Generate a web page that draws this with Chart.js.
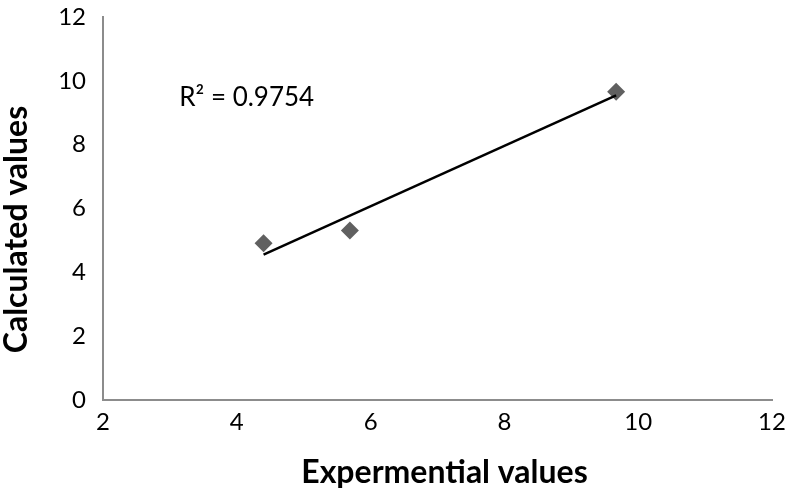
<!DOCTYPE html>
<html>
<head>
<meta charset="utf-8">
<script src="https://cdn.jsdelivr.net/npm/chart.js@4/dist/chart.umd.min.js"></script>
<style>
  html, body { margin: 0; padding: 0; background: #fff; }
  #wrap { position: relative; width: 787px; height: 493px; }
</style>
</head>
<body>
<div id="wrap"><canvas id="chart"></canvas></div>
<script>
// Experimental vs calculated values, with linear trendline
const expValues = [4.40, 5.69, 9.67];
const calcValues = [4.91, 5.31, 9.66];
const xTicks = [2, 4, 6, 8, 10, 12];
const yTicks = [0, 2, 4, 6, 8, 10, 12];
const r2Label = 'R² = 0.9754';
const xTitle = 'Expermential values';
const yTitle = 'Calculated values';

// least squares fit through the points (the trendline)
const n = expValues.length;
const mx = expValues.reduce((a, b) => a + b, 0) / n;
const my = calcValues.reduce((a, b) => a + b, 0) / n;
let sxy = 0, sxx = 0;
for (let i = 0; i < n; i++) {
    sxy += (expValues[i] - mx) * (calcValues[i] - my);
    sxx += (expValues[i] - mx) * (expValues[i] - mx);
}
const slope = sxy / sxx;
const icpt = my - slope * mx;
const xMin = Math.min(...expValues), xMax = Math.max(...expValues);
const trend = [
    { x: xMin, y: icpt + slope * xMin },
    { x: xMax, y: icpt + slope * xMax }
];

const points = expValues.map((x, i) => ({ x: x, y: calcValues[i] }));

const FONT = 'Lato, "Open Sans", sans-serif';

// R² label and axis titles, placed like the spreadsheet original
const labelsPlugin = {
    id: 'extraLabels',
    afterDraw(chart) {
        const ctx = chart.ctx;
        const xs = chart.scales.x, ys = chart.scales.y;
        const area = chart.chartArea;
        ctx.save();
        ctx.fillStyle = '#000';
        ctx.font = '26px ' + FONT;
        ctx.textBaseline = 'alphabetic';
        ctx.textAlign = 'left';
        ctx.fillText(r2Label, xs.getPixelForValue(3.14), ys.getPixelForValue(9.22));

        ctx.font = 'bold 32px ' + FONT;
        ctx.textAlign = 'center';
        ctx.fillText(xTitle, (area.left + area.right) / 2 + 7, 483);

        ctx.translate(27, (area.top + area.bottom) / 2 + 21);
        ctx.rotate(-Math.PI / 2);
        ctx.fillText(yTitle, 0, 0);
        ctx.restore();
    }
};

const tickFont = { family: FONT, size: 24 };

new Chart(document.getElementById('chart'), {
    type: 'scatter',
    data: {
        datasets: [
            {
                label: 'Trend',
                type: 'line',
                data: trend,
                borderColor: '#000',
                borderWidth: 2.5,
                pointRadius: 0,
                fill: false
            },
            {
                label: 'Values',
                data: points,
                pointStyle: 'rectRot',
                pointRadius: 9,
                pointBackgroundColor: '#606060',
                pointBorderColor: '#606060',
                pointBorderWidth: 0
            }
        ]
    },
    options: {
        responsive: true,
        maintainAspectRatio: false,
        animation: false,
        layout: { padding: { top: 17, right: 15, left: 0, bottom: 0 } },
        plugins: {
            legend: { display: false },
            tooltip: { enabled: false }
        },
        scales: {
            x: {
                type: 'linear',
                min: 2, max: 12,
                afterBuildTicks: s => { s.ticks = xTicks.map(v => ({ value: v })); },
                afterFit: s => { s.height = 93; s.paddingLeft = 0; s.paddingRight = 0; },
                grid: { display: false, drawTicks: false },
                border: { color: '#8c8c8c', width: 2 },
                ticks: { color: '#000', font: tickFont, padding: 8 }
            },
            y: {
                type: 'linear',
                min: 0, max: 12,
                afterBuildTicks: s => { s.ticks = yTicks.map(v => ({ value: v })); },
                afterFit: s => { s.width = 103; s.paddingTop = 0; s.paddingBottom = 0; },
                grid: { display: false, drawTicks: false },
                border: { color: '#8c8c8c', width: 2 },
                ticks: { color: '#000', font: tickFont, padding: 17 }
            }
        }
    },
    plugins: [labelsPlugin]
});
</script>
</body>
</html>
